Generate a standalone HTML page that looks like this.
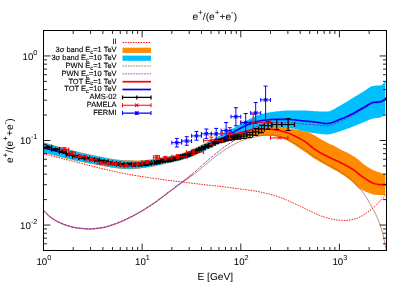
<!DOCTYPE html>
<html><head><meta charset="utf-8"><title>e+/(e+ + e-)</title>
<style>html,body{margin:0;padding:0;background:#fff;}svg{display:block;}</style>
</head><body>
<div id="plot" style="width:405px;height:283px;overflow:hidden;will-change:transform">
<svg width="405" height="283" viewBox="0 0 405 283" font-family="'Liberation Sans', sans-serif" fill="#000" text-rendering="geometricPrecision">
<rect x="0" y="0" width="405" height="283" fill="#fff"/>
<defs><clipPath id="c"><rect x="43.5" y="30.5" width="343.0" height="220.0"/></clipPath></defs>
<defs><clipPath id="cb"><rect x="43.5" y="30.5" width="341.8" height="220.0"/></clipPath></defs>
<g clip-path="url(#c)">
<path d="M43.5 153.7 L45.2 154.2 L46.9 154.6 L48.7 155.1 L50.4 155.5 L52.1 156.0 L53.8 156.4 L55.6 156.9 L57.3 157.3 L59.0 157.7 L60.7 158.2 L62.5 158.6 L64.2 159.1 L65.9 159.5 L67.6 159.9 L69.4 160.3 L71.1 160.8 L72.8 161.2 L74.5 161.6 L76.2 162.1 L78.0 162.5 L79.7 163.0 L81.4 163.4 L83.1 163.9 L84.9 164.3 L86.6 164.8 L88.3 165.2 L90.0 165.6 L91.8 166.1 L93.5 166.5 L95.2 166.9 L96.9 167.4 L98.7 167.8 L100.4 168.2 L102.1 168.6 L103.8 169.0 L105.6 169.4 L107.3 169.8 L109.0 170.2 L110.7 170.6 L112.4 171.0 L114.2 171.4 L115.9 171.8 L117.6 172.2 L119.3 172.6 L121.1 172.9 L122.8 173.3 L124.5 173.6 L126.2 173.9 L128.0 174.2 L129.7 174.5 L131.4 174.8 L133.1 175.1 L134.9 175.4 L136.6 175.7 L138.3 176.0 L140.0 176.3 L141.7 176.5 L143.5 176.8 L145.2 177.1 L146.9 177.3 L148.6 177.6 L150.4 177.9 L152.1 178.1 L153.8 178.4 L155.5 178.6 L157.3 178.8 L159.0 179.1 L160.7 179.3 L162.4 179.5 L164.2 179.8 L165.9 180.0 L167.6 180.2 L169.3 180.4 L171.0 180.6 L172.8 180.9 L174.5 181.1 L176.2 181.3 L177.9 181.5 L179.7 181.7 L181.4 181.9 L183.1 182.2 L184.8 182.4 L186.6 182.6 L188.3 182.8 L190.0 183.0 L191.7 183.2 L193.5 183.4 L195.2 183.6 L196.9 183.8 L198.6 184.0 L200.3 184.2 L202.1 184.4 L203.8 184.6 L205.5 184.8 L207.2 185.0 L209.0 185.2 L210.7 185.4 L212.4 185.6 L214.1 185.8 L215.9 185.9 L217.6 186.1 L219.3 186.3 L221.0 186.5 L222.8 186.7 L224.5 187.0 L226.2 187.2 L227.9 187.4 L229.7 187.6 L231.4 187.9 L233.1 188.1 L234.8 188.3 L236.5 188.5 L238.3 188.7 L240.0 189.0 L241.7 189.2 L243.4 189.4 L245.2 189.6 L246.9 189.9 L248.6 190.1 L250.3 190.4 L252.1 190.6 L253.8 190.9 L255.5 191.1 L257.2 191.4 L259.0 191.7 L260.7 192.1 L262.4 192.5 L264.1 192.9 L265.8 193.3 L267.6 193.7 L269.3 194.1 L271.0 194.6 L272.7 195.1 L274.5 195.6 L276.2 196.1 L277.9 196.7 L279.6 197.3 L281.4 197.9 L283.1 198.5 L284.8 199.2 L286.5 200.0 L288.3 200.7 L290.0 201.5 L291.7 202.3 L293.4 203.0 L295.1 203.9 L296.9 204.7 L298.6 205.5 L300.3 206.3 L302.0 207.1 L303.8 208.0 L305.5 208.8 L307.2 209.7 L308.9 210.6 L310.7 211.4 L312.4 212.2 L314.1 213.0 L315.8 213.7 L317.6 214.5 L319.3 215.2 L321.0 215.9 L322.7 216.5 L324.4 217.1 L326.2 217.7 L327.9 218.1 L329.6 218.5 L331.3 218.9 L333.1 219.3 L334.8 219.6 L336.5 219.9 L338.2 220.1 L340.0 220.2 L341.7 220.3 L343.4 220.4 L345.1 220.4 L346.9 220.4 L348.6 220.2 L350.3 220.0 L352.0 219.7 L353.8 219.3 L355.5 218.8 L357.2 218.2 L358.9 217.5 L360.6 216.6 L362.4 215.7 L364.1 214.6 L365.8 213.5 L367.5 212.3 L369.3 211.1 L371.0 209.7 L372.7 208.3 L374.4 206.8 L376.2 205.1 L377.9 203.4 L379.6 201.6 L381.3 199.6 L383.1 197.7 L384.8 195.7 L386.5 193.8" fill="none" stroke="#ff0000" stroke-width="0.95" stroke-dasharray="1.5 1.1"/>
<polygon clip-path="url(#cb)" points="43.5,142.3 45.0,142.8 46.5,143.2 47.9,143.6 49.4,144.0 50.9,144.5 52.4,144.9 53.9,145.3 55.4,145.7 56.8,146.1 58.3,146.5 59.8,146.9 61.3,147.3 62.8,147.7 64.3,148.1 65.7,148.5 67.2,148.9 68.7,149.3 70.2,149.7 71.7,150.1 73.2,150.5 74.6,150.9 76.1,151.3 77.6,151.7 79.1,152.0 80.6,152.4 82.1,152.7 83.5,153.1 85.0,153.4 86.5,153.7 88.0,154.0 89.5,154.4 91.0,154.7 92.4,155.0 93.9,155.3 95.4,155.6 96.9,155.9 98.4,156.2 99.9,156.5 101.3,156.8 102.8,157.1 104.3,157.4 105.8,157.7 107.3,157.9 108.8,158.2 110.2,158.5 111.7,158.7 113.2,159.0 114.7,159.2 116.2,159.4 117.7,159.6 119.1,159.8 120.6,160.0 122.1,160.1 123.6,160.2 125.1,160.3 126.6,160.3 128.0,160.3 129.5,160.3 131.0,160.3 132.5,160.4 134.0,160.4 135.5,160.5 136.9,160.5 138.4,160.5 139.9,160.4 141.4,160.3 142.9,160.2 144.4,160.1 145.8,159.9 147.3,159.8 148.8,159.6 150.3,159.5 151.8,159.3 153.3,159.1 154.7,158.9 156.2,158.6 157.7,158.3 159.2,158.1 160.7,157.8 162.2,157.5 163.6,157.2 165.1,156.9 166.6,156.7 168.1,156.4 169.6,156.1 171.1,155.8 172.5,155.5 174.0,155.2 175.5,154.9 177.0,154.5 178.5,154.2 180.0,153.8 181.4,153.4 182.9,153.0 184.4,152.5 185.9,152.0 187.4,151.5 188.9,150.9 190.3,150.4 191.8,149.7 193.3,149.0 194.8,148.3 196.3,147.6 197.8,146.8 199.2,146.1 200.7,145.3 202.2,144.6 203.7,143.8 205.2,143.1 206.7,142.3 208.1,141.5 209.6,140.7 211.1,140.0 212.6,139.3 214.1,138.5 215.6,137.8 217.0,137.0 218.5,136.3 220.0,135.6 221.7,135.1 223.4,134.3 225.1,133.6 226.7,132.9 228.4,132.2 230.1,131.6 231.8,130.9 233.5,130.3 235.2,129.7 236.8,129.2 238.5,128.6 240.2,128.1 241.9,127.7 243.6,127.2 245.3,126.8 246.9,126.4 248.6,126.1 250.3,125.7 252.0,125.5 253.7,125.2 255.4,124.9 257.0,124.7 258.7,124.6 260.4,124.5 262.1,124.5 263.8,124.4 265.5,124.4 267.1,124.4 268.8,124.4 270.5,124.4 272.2,124.5 273.9,124.7 275.6,125.0 277.3,125.3 278.9,125.6 280.6,125.9 282.3,126.3 284.0,126.8 285.7,127.3 287.4,127.8 289.0,128.3 290.7,128.6 292.4,129.0 294.1,129.2 295.8,129.5 297.5,129.7 299.1,130.0 300.8,130.3 302.5,130.6 304.2,131.0 305.9,131.4 307.6,131.9 309.2,132.4 310.9,133.2 312.6,134.2 314.3,135.3 316.0,136.3 317.7,137.3 319.3,138.3 321.0,139.3 322.7,140.2 324.4,141.2 326.1,142.1 327.8,142.9 329.4,143.7 331.1,144.4 332.8,145.1 334.5,145.9 336.2,146.9 337.9,148.0 339.6,149.0 341.2,149.9 342.9,150.8 344.6,151.6 346.3,152.3 348.0,153.1 349.7,154.0 351.3,154.9 353.0,155.9 354.7,157.0 356.4,158.2 358.1,159.4 359.8,160.8 361.4,162.3 363.1,163.8 364.8,165.1 366.5,166.2 368.2,167.3 369.9,168.2 371.5,169.2 373.2,170.0 374.9,170.7 376.6,171.4 378.3,172.0 380.0,172.6 381.6,173.2 383.3,173.7 385.0,174.1 386.7,174.5 386.7,195.0 385.0,195.0 383.3,195.0 381.6,195.0 380.0,194.9 378.3,194.9 376.6,194.8 374.9,194.7 373.2,194.4 371.5,193.9 369.9,193.3 368.2,192.7 366.5,192.0 364.8,191.2 363.1,190.4 361.4,189.6 359.8,188.6 358.1,187.5 356.4,185.9 354.7,184.2 353.0,182.5 351.3,181.0 349.7,179.7 348.0,178.5 346.3,177.3 344.6,176.1 342.9,175.0 341.2,173.9 339.6,172.8 337.9,171.8 336.2,170.8 334.5,169.9 332.8,168.9 331.1,168.0 329.4,167.1 327.8,166.2 326.1,165.2 324.4,164.3 322.7,163.4 321.0,162.4 319.3,161.5 317.7,160.5 316.0,159.5 314.3,158.5 312.6,157.4 310.9,156.2 309.2,155.0 307.6,153.8 305.9,152.6 304.2,151.5 302.5,150.3 300.8,149.2 299.1,148.1 297.5,146.9 295.8,145.7 294.1,144.5 292.4,143.4 290.7,142.4 289.0,141.5 287.4,140.6 285.7,139.9 284.0,139.3 282.3,138.6 280.6,137.9 278.9,137.2 277.3,136.8 275.6,136.5 273.9,136.3 272.2,136.0 270.5,135.9 268.8,135.8 267.1,135.8 265.5,135.8 263.8,135.8 262.1,135.8 260.4,135.9 258.7,135.9 257.0,135.9 255.4,136.0 253.7,136.1 252.0,136.3 250.3,136.5 248.6,136.7 246.9,137.0 245.3,137.2 243.6,137.5 241.9,137.8 240.2,138.1 238.5,138.5 236.8,138.9 235.2,139.3 233.5,139.7 231.8,140.2 230.1,140.6 228.4,141.1 226.7,141.6 225.1,142.2 223.4,142.7 221.7,143.3 220.0,143.6 218.5,144.2 217.0,144.9 215.6,145.6 214.1,146.3 212.6,147.0 211.1,147.7 209.6,148.4 208.1,149.1 206.7,149.8 205.2,150.6 203.7,151.3 202.2,152.0 200.7,152.7 199.2,153.4 197.8,154.1 196.3,154.8 194.8,155.5 193.3,156.1 191.8,156.8 190.3,157.3 188.9,157.9 187.4,158.4 185.9,158.8 184.4,159.3 182.9,159.7 181.4,160.2 180.0,160.6 178.5,160.9 177.0,161.3 175.5,161.7 174.0,162.0 172.5,162.3 171.1,162.7 169.6,163.0 168.1,163.3 166.6,163.6 165.1,164.0 163.6,164.3 162.2,164.6 160.7,165.0 159.2,165.3 157.7,165.6 156.2,165.9 154.7,166.2 153.3,166.5 151.8,166.8 150.3,167.0 148.8,167.2 147.3,167.5 145.8,167.7 144.4,167.9 142.9,168.1 141.4,168.3 139.9,168.5 138.4,168.7 136.9,168.8 135.5,168.9 134.0,168.9 132.5,169.0 131.0,169.0 129.5,169.0 128.0,169.1 126.6,169.1 125.1,169.1 123.6,169.1 122.1,169.0 120.6,168.8 119.1,168.7 117.7,168.5 116.2,168.3 114.7,168.1 113.2,167.9 111.7,167.6 110.2,167.4 108.8,167.1 107.3,166.9 105.8,166.6 104.3,166.3 102.8,166.0 101.3,165.7 99.9,165.4 98.4,165.2 96.9,164.9 95.4,164.6 93.9,164.4 92.4,164.1 91.0,163.8 89.5,163.6 88.0,163.3 86.5,163.0 85.0,162.7 83.5,162.4 82.1,162.1 80.6,161.8 79.1,161.5 77.6,161.2 76.1,160.9 74.6,160.5 73.2,160.2 71.7,159.8 70.2,159.5 68.7,159.1 67.2,158.8 65.7,158.4 64.3,158.0 62.8,157.7 61.3,157.3 59.8,156.9 58.3,156.6 56.8,156.2 55.4,155.8 53.9,155.5 52.4,155.1 50.9,154.7 49.4,154.3 47.9,154.0 46.5,153.6 45.0,153.2 43.5,152.8" fill="#ff8c00"/>
<polygon clip-path="url(#cb)" points="43.5,142.8 45.0,143.2 46.5,143.6 47.9,144.0 49.4,144.4 50.9,144.9 52.4,145.3 53.9,145.7 55.4,146.1 56.8,146.5 58.3,146.9 59.8,147.3 61.3,147.7 62.8,148.1 64.3,148.5 65.7,148.9 67.2,149.3 68.7,149.7 70.2,150.1 71.7,150.5 73.2,150.9 74.6,151.3 76.1,151.7 77.6,152.1 79.1,152.4 80.6,152.8 82.1,153.1 83.5,153.5 85.0,153.8 86.5,154.1 88.0,154.4 89.5,154.8 91.0,155.1 92.4,155.4 93.9,155.7 95.4,156.0 96.9,156.3 98.4,156.6 99.9,156.9 101.3,157.2 102.8,157.5 104.3,157.8 105.8,158.1 107.3,158.3 108.8,158.6 110.2,158.9 111.7,159.1 113.2,159.4 114.7,159.6 116.2,159.8 117.7,160.0 119.1,160.2 120.6,160.4 122.1,160.5 123.6,160.6 125.1,160.7 126.6,160.7 128.0,160.7 129.5,160.7 131.0,160.7 132.5,160.8 134.0,160.8 135.5,160.9 136.9,160.9 138.4,160.9 139.9,160.8 141.4,160.7 142.9,160.6 144.4,160.5 145.8,160.3 147.3,160.2 148.8,160.0 150.3,159.9 151.8,159.7 153.3,159.5 154.7,159.3 156.2,159.0 157.7,158.7 159.2,158.5 160.7,158.2 162.2,157.9 163.6,157.6 165.1,157.3 166.6,157.1 168.1,156.8 169.6,156.5 171.1,156.2 172.5,155.9 174.0,155.6 175.5,155.3 177.0,154.9 178.5,154.6 180.0,154.2 181.4,153.8 182.9,153.4 184.4,152.9 185.9,152.4 187.4,151.9 188.9,151.3 190.3,150.8 191.8,150.1 193.3,149.4 194.8,148.7 196.3,148.0 197.8,147.2 199.2,146.5 200.7,145.7 202.2,145.0 203.7,144.2 205.2,143.5 206.7,142.7 208.1,141.9 209.6,141.1 211.1,140.4 212.6,139.7 214.1,138.9 215.6,138.2 217.0,137.4 218.5,136.7 220.0,136.0 221.7,135.0 223.4,133.9 225.1,132.9 226.7,131.8 228.4,130.9 230.1,129.9 231.8,129.1 233.5,128.2 235.2,127.2 236.8,126.3 238.5,125.3 240.2,124.3 241.9,123.3 243.6,122.4 245.3,121.4 246.9,120.4 248.6,119.5 250.3,118.6 252.0,117.8 253.7,116.9 255.4,116.2 257.0,115.5 258.7,114.9 260.4,114.4 262.1,113.9 263.8,113.5 265.5,113.1 267.1,112.8 268.8,112.4 270.5,112.2 272.2,111.9 273.9,111.7 275.6,111.5 277.3,111.3 278.9,111.2 280.6,111.0 282.3,110.8 284.0,110.7 285.7,110.6 287.4,110.5 289.0,110.5 290.7,110.5 292.4,110.5 294.1,110.5 295.8,110.5 297.5,110.5 299.1,110.5 300.8,110.5 302.5,110.5 304.2,110.5 305.9,110.6 307.6,110.7 309.2,110.8 310.9,111.0 312.6,111.1 314.3,111.2 316.0,111.3 317.7,111.3 319.3,111.4 321.0,111.5 322.7,111.5 324.4,111.6 326.1,111.6 327.8,111.6 329.4,111.3 331.1,110.6 332.8,109.8 334.5,108.9 336.2,107.8 337.9,106.8 339.6,105.9 341.2,105.0 342.9,104.0 344.6,103.0 346.3,102.0 348.0,100.9 349.7,99.9 351.3,98.8 353.0,97.8 354.7,96.8 356.4,95.8 358.1,94.8 359.8,93.8 361.4,92.8 363.1,91.8 364.8,90.8 366.5,89.6 368.2,88.3 369.9,87.2 371.5,86.3 373.2,85.9 374.9,85.7 376.6,85.6 378.3,85.5 380.0,85.4 381.6,85.1 383.3,83.4 385.0,81.4 386.7,80.2 386.7,113.2 385.0,114.2 383.3,115.7 381.6,117.1 380.0,117.6 378.3,117.9 376.6,118.1 374.9,118.3 373.2,118.6 371.5,119.0 369.9,119.6 368.2,120.3 366.5,121.1 364.8,121.8 363.1,122.5 361.4,123.2 359.8,123.8 358.1,124.5 356.4,125.2 354.7,125.9 353.0,126.6 351.3,127.2 349.7,127.9 348.0,128.5 346.3,129.1 344.6,129.7 342.9,130.3 341.2,130.9 339.6,131.4 337.9,131.9 336.2,132.4 334.5,133.0 332.8,133.5 331.1,133.9 329.4,134.2 327.8,134.4 326.1,134.4 324.4,134.3 322.7,134.2 321.0,134.0 319.3,133.8 317.7,133.6 316.0,133.4 314.3,133.1 312.6,132.9 310.9,132.6 309.2,132.2 307.6,131.8 305.9,131.5 304.2,131.1 302.5,130.7 300.8,130.4 299.1,130.0 297.5,129.6 295.8,129.2 294.1,128.8 292.4,128.5 290.7,128.2 289.0,127.9 287.4,127.7 285.7,127.4 284.0,127.2 282.3,127.0 280.6,126.8 278.9,126.6 277.3,126.5 275.6,126.4 273.9,126.4 272.2,126.4 270.5,126.5 268.8,126.6 267.1,126.7 265.5,126.9 263.8,127.1 262.1,127.4 260.4,127.7 258.7,128.0 257.0,128.5 255.4,128.9 253.7,129.4 252.0,130.0 250.3,130.5 248.6,131.1 246.9,131.6 245.3,132.3 243.6,132.9 241.9,133.6 240.2,134.2 238.5,134.9 236.8,135.6 235.2,136.3 233.5,137.0 231.8,137.8 230.1,138.6 228.4,139.3 226.7,140.1 225.1,140.9 223.4,141.7 221.7,142.6 220.0,143.2 218.5,143.9 217.0,144.6 215.6,145.2 214.1,145.9 212.6,146.6 211.1,147.3 209.6,148.0 208.1,148.7 206.7,149.5 205.2,150.2 203.7,150.9 202.2,151.7 200.7,152.4 199.2,153.1 197.8,153.8 196.3,154.5 194.8,155.1 193.3,155.8 191.8,156.4 190.3,157.0 188.9,157.5 187.4,158.0 185.9,158.5 184.4,159.0 182.9,159.4 181.4,159.8 180.0,160.2 178.5,160.6 177.0,161.0 175.5,161.3 174.0,161.7 172.5,162.0 171.1,162.3 169.6,162.6 168.1,163.0 166.6,163.3 165.1,163.6 163.6,163.9 162.2,164.3 160.7,164.6 159.2,164.9 157.7,165.3 156.2,165.6 154.7,165.9 153.3,166.2 151.8,166.4 150.3,166.7 148.8,166.9 147.3,167.1 145.8,167.3 144.4,167.6 142.9,167.8 141.4,168.0 139.9,168.2 138.4,168.3 136.9,168.5 135.5,168.5 134.0,168.6 132.5,168.6 131.0,168.7 129.5,168.7 128.0,168.7 126.6,168.7 125.1,168.7 123.6,168.7 122.1,168.6 120.6,168.5 119.1,168.3 117.7,168.1 116.2,167.9 114.7,167.7 113.2,167.5 111.7,167.3 110.2,167.1 108.8,166.8 107.3,166.5 105.8,166.2 104.3,165.9 102.8,165.6 101.3,165.4 99.9,165.1 98.4,164.8 96.9,164.5 95.4,164.3 93.9,164.0 92.4,163.7 91.0,163.5 89.5,163.2 88.0,162.9 86.5,162.7 85.0,162.4 83.5,162.1 82.1,161.8 80.6,161.5 79.1,161.2 77.6,160.9 76.1,160.5 74.6,160.2 73.2,159.8 71.7,159.5 70.2,159.1 68.7,158.8 67.2,158.4 65.7,158.0 64.3,157.7 62.8,157.3 61.3,156.9 59.8,156.6 58.3,156.2 56.8,155.9 55.4,155.5 53.9,155.1 52.4,154.7 50.9,154.4 49.4,154.0 47.9,153.6 46.5,153.2 45.0,152.8 43.5,152.4" fill="#00bfff"/>
<path d="M43.7 210.6 L44.9 211.9 L46.2 213.2 L47.4 214.4 L48.7 215.6 L49.9 216.7 L51.2 217.7 L52.4 218.5 L53.7 219.3 L54.9 220.1 L56.2 220.8 L57.4 221.5 L58.7 222.1 L59.9 222.7 L61.2 223.3 L62.4 223.8 L63.7 224.3 L64.9 224.7 L66.2 225.2 L67.4 225.6 L68.7 226.0 L69.9 226.4 L71.2 226.7 L72.4 227.0 L73.7 227.3 L74.9 227.6 L76.2 227.8 L77.4 227.9 L78.7 228.1 L79.9 228.2 L81.2 228.4 L82.4 228.5 L83.7 228.6 L84.9 228.7 L86.2 228.8 L87.4 228.9 L88.7 228.9 L89.9 228.9 L91.2 228.9 L92.4 228.8 L93.7 228.7 L94.9 228.6 L96.2 228.5 L97.4 228.3 L98.7 228.2 L99.9 228.0 L101.2 227.8 L102.4 227.6 L103.7 227.4 L104.9 227.1 L106.2 226.8 L107.4 226.5 L108.7 226.1 L109.9 225.7 L111.2 225.3 L112.4 224.8 L113.7 224.4 L114.9 224.0 L116.2 223.5 L117.4 223.1 L118.7 222.5 L119.9 222.0 L121.2 221.5 L122.4 220.9 L123.7 220.4 L124.9 219.8 L126.2 219.2 L127.4 218.6 L128.7 218.0 L129.9 217.4 L131.2 216.8 L132.4 216.1 L133.7 215.5 L134.9 214.8 L136.2 214.1 L137.4 213.5 L138.7 212.8 L139.9 212.0 L141.2 211.3 L142.4 210.6 L143.7 209.8 L144.9 209.1 L146.2 208.3 L147.4 207.5 L148.7 206.7 L149.9 205.9 L151.2 205.1 L152.4 204.2 L153.7 203.4 L154.9 202.5 L156.2 201.6 L157.4 200.7 L158.7 199.8 L159.9 198.9 L161.2 197.9 L162.4 197.0 L163.7 196.0 L164.9 195.1 L166.2 194.1 L167.4 193.2 L168.7 192.2 L169.9 191.3 L171.2 190.4 L172.4 189.4 L173.7 188.5 L174.9 187.6 L176.2 186.6 L177.4 185.7 L178.7 184.7 L179.9 183.8 L181.2 182.8 L182.4 181.9 L183.7 180.9 L184.9 180.0 L186.2 179.0 L187.4 178.0 L188.7 177.0 L189.9 176.1 L191.2 175.1 L192.4 174.1" fill="none" stroke="#c46ab0" stroke-width="1.5" stroke-opacity="0.55"/>
<path d="M43.7 210.8 L45.0 212.2 L46.3 213.6 L47.7 214.9 L49.0 216.1 L50.3 217.2 L51.6 218.2 L53.0 219.1 L54.3 219.9 L55.6 220.7 L56.9 221.4 L58.3 222.1 L59.6 222.8 L60.9 223.4 L62.2 223.9 L63.6 224.5 L64.9 224.9 L66.2 225.4 L67.5 225.8 L68.8 226.2 L70.2 226.6 L71.5 227.0 L72.8 227.3 L74.1 227.6 L75.5 227.9 L76.8 228.1 L78.1 228.2 L79.4 228.4 L80.8 228.5 L82.1 228.7 L83.4 228.8 L84.7 228.9 L86.1 229.0 L87.4 229.1 L88.7 229.1 L90.0 229.1 L91.3 229.1 L92.7 229.0 L94.0 228.9 L95.3 228.8 L96.6 228.6 L98.0 228.5 L99.3 228.3 L100.6 228.1 L101.9 227.9 L103.3 227.7 L104.6 227.4 L105.9 227.1 L107.2 226.7 L108.6 226.3 L109.9 225.9 L111.2 225.5 L112.5 225.0 L113.8 224.6 L115.2 224.1 L116.5 223.6 L117.8 223.1 L119.1 222.6 L120.5 222.0 L121.8 221.4 L123.1 220.8 L124.4 220.2 L125.8 219.6 L127.1 219.0 L128.4 218.3 L129.7 217.7 L131.1 217.0 L132.4 216.4 L133.7 215.7 L135.0 215.0 L136.3 214.2 L137.7 213.5 L139.0 212.8 L140.3 212.0 L141.6 211.2 L143.0 210.5 L144.3 209.7 L145.6 208.8 L146.9 208.0 L148.3 207.2 L149.6 206.3 L150.9 205.4 L152.2 204.5 L153.6 203.7 L154.9 202.7 L156.2 201.8 L157.5 200.9 L158.8 199.9 L160.2 198.9 L161.5 197.9 L162.8 196.9 L164.1 195.8 L165.5 194.8 L166.8 193.8 L168.1 192.8 L169.4 191.8 L170.8 190.8 L172.1 189.8 L173.4 188.8 L174.7 187.8 L176.1 186.8 L177.4 185.8 L178.7 184.9 L180.0 183.9 L181.3 183.0 L182.7 182.1 L184.0 181.2 L185.3 180.4 L186.6 179.5 L188.0 178.7 L189.3 177.8 L190.6 176.6 L191.9 175.7 L193.3 174.8 L194.6 173.8 L195.9 172.8 L197.2 171.7 L198.6 170.7 L199.9 169.5 L201.2 168.4 L202.5 167.3 L203.8 166.2 L205.2 165.0 L206.5 163.9 L207.8 162.8 L209.1 161.7 L210.5 160.6 L211.8 159.5 L213.1 158.5 L214.4 157.4 L215.8 156.3 L217.1 155.3 L218.4 154.3 L219.7 153.3 L221.1 152.4 L222.4 151.5 L223.7 150.6 L225.0 149.7 L226.4 148.9 L227.7 148.1 L229.0 147.3 L230.3 146.5 L231.6 145.7 L233.0 145.0 L234.3 144.2 L235.6 143.5 L236.9 142.8 L238.3 142.2 L239.6 141.6 L240.9 141.0 L242.2 140.5 L243.6 140.1 L244.9 139.6 L246.2 139.2 L247.5 138.9 L248.9 138.5 L250.2 138.2 L251.5 137.8 L252.8 137.5 L254.1 137.2 L255.5 136.9 L256.8 136.6 L258.1 136.4 L259.4 136.1 L260.8 135.8 L262.1 135.5 L263.4 135.3 L264.7 135.2 L266.1 135.2 L267.4 135.1 L268.7 135.1 L270.0 135.0 L271.4 135.0 L272.7 135.0 L274.0 135.1 L275.3 135.3 L276.6 135.6 L278.0 135.9 L279.3 136.3 L280.6 136.7 L281.9 137.1 L283.3 137.6 L284.6 138.2 L285.9 138.9 L287.2 139.6 L288.6 140.3 L289.9 141.0 L291.2 141.7 L292.5 142.4 L293.9 143.1 L295.2 143.7 L296.5 144.4 L297.8 145.2 L299.1 145.9 L300.5 146.6 L301.8 147.4 L303.1 148.2 L304.4 149.1 L305.8 150.0 L307.1 151.0 L308.4 152.0 L309.7 153.0 L311.1 154.0 L312.4 154.9 L313.7 155.9 L315.0 156.8 L316.4 157.6 L317.7 158.5 L319.0 159.3 L320.3 160.2 L321.6 161.0 L323.0 161.8 L324.3 162.6 L325.6 163.3 L326.9 164.1 L328.3 164.8 L329.6 165.5 L330.9 166.2 L332.2 166.9 L333.6 167.6 L334.9 168.3 L336.2 169.1 L337.5 169.9 L338.9 170.7 L340.2 171.6 L341.5 172.5 L342.8 173.4 L344.1 174.3 L345.5 175.3 L346.8 176.3 L348.1 177.4 L349.4 178.4 L350.8 179.5 L352.1 180.7 L353.4 181.9 L354.7 183.2 L356.1 184.7 L357.4 186.4 L358.7 187.9 L360.0 189.2 L361.4 190.4 L362.7 192.0 L364.0 193.9 L365.3 195.9 L366.6 198.0 L368.0 200.2 L369.3 202.4 L370.6 204.7 L371.9 207.0 L373.3 209.5 L374.6 212.0 L375.9 214.6 L377.2 217.5 L378.6 220.6 L379.9 224.1 L381.2 228.1 L382.5 232.7 L383.9 238.3 L385.2 245.0 L386.5 252.0" fill="none" stroke="#a0522d" stroke-width="0.85" stroke-opacity="0.75"/>
<path d="M43.7 210.5 L45.0 211.9 L46.3 213.3 L47.7 214.6 L49.0 215.8 L50.3 216.9 L51.6 217.9 L53.0 218.8 L54.3 219.6 L55.6 220.4 L56.9 221.1 L58.3 221.8 L59.6 222.5 L60.9 223.1 L62.2 223.6 L63.6 224.2 L64.9 224.6 L66.2 225.1 L67.5 225.5 L68.9 225.9 L70.2 226.3 L71.5 226.7 L72.8 227.0 L74.2 227.3 L75.5 227.6 L76.8 227.8 L78.1 227.9 L79.5 228.1 L80.8 228.2 L82.1 228.4 L83.4 228.5 L84.8 228.6 L86.1 228.7 L87.4 228.8 L88.7 228.8 L90.1 228.8 L91.4 228.8 L92.7 228.7 L94.0 228.6 L95.3 228.5 L96.7 228.3 L98.0 228.1 L99.3 228.0 L100.6 227.8 L102.0 227.6 L103.3 227.4 L104.6 227.1 L105.9 226.8 L107.3 226.4 L108.6 226.0 L109.9 225.6 L111.2 225.1 L112.6 224.7 L113.9 224.2 L115.2 223.8 L116.5 223.3 L117.9 222.8 L119.2 222.2 L120.5 221.7 L121.8 221.1 L123.2 220.5 L124.5 219.9 L125.8 219.3 L127.1 218.7 L128.5 218.0 L129.8 217.4 L131.1 216.7 L132.4 216.0 L133.8 215.3 L135.1 214.6 L136.4 213.9 L137.7 213.2 L139.1 212.4 L140.4 211.7 L141.7 210.9 L143.0 210.1 L144.3 209.3 L145.7 208.5 L147.0 207.7 L148.3 206.8 L149.6 206.0 L151.0 205.1 L152.3 204.2 L153.6 203.3 L154.9 202.4 L156.3 201.5 L157.6 200.5 L158.9 199.5 L160.2 198.5 L161.6 197.5 L162.9 196.5 L164.2 195.5 L165.5 194.5 L166.9 193.5 L168.2 192.5 L169.5 191.5 L170.8 190.5 L172.2 189.5 L173.5 188.5 L174.8 187.5 L176.1 186.5 L177.5 185.6 L178.8 184.5 L180.1 183.5 L181.4 182.5 L182.8 181.5 L184.1 180.5 L185.4 179.5 L186.7 178.5 L188.1 177.5 L189.4 176.4 L190.7 175.4 L192.0 174.3 L193.3 173.2 L194.7 172.1 L196.0 170.9 L197.3 169.7 L198.6 168.5 L200.0 167.3 L201.3 166.1 L202.6 164.9 L203.9 163.7 L205.3 162.5 L206.6 161.4 L207.9 160.3 L209.2 159.1 L210.6 158.0 L211.9 156.9 L213.2 155.8 L214.5 154.7 L215.9 153.6 L217.2 152.6 L218.5 151.5 L219.8 150.5 L221.2 149.4 L222.5 148.4 L223.8 147.4 L225.1 146.5 L226.5 145.5 L227.8 144.6 L229.1 143.8 L230.4 142.9 L231.8 142.0 L233.1 141.1 L234.4 140.2 L235.7 139.3 L237.1 138.4 L238.4 137.5 L239.7 136.6 L241.0 135.8 L242.3 134.9 L243.7 134.0 L245.0 133.2 L246.3 132.3 L247.6 131.5 L249.0 130.6 L250.3 129.8 L251.6 129.0 L252.9 128.3 L254.3 127.7 L255.6 127.0 L256.9 126.4 L258.2 125.9 L259.6 125.4 L260.9 125.0 L262.2 124.6 L263.5 124.2 L264.9 123.8 L266.2 123.5 L267.5 123.3 L268.8 123.0 L270.2 122.8 L271.5 122.6 L272.8 122.5 L274.1 122.4 L275.5 122.4 L276.8 122.4 L278.1 122.4 L279.4 122.5 L280.8 122.5 L282.1 122.5 L283.4 122.6 L284.7 122.6 L286.1 122.7 L287.4 122.7 L288.7 122.8 L290.0 122.8 L291.3 122.9 L292.7 123.0 L294.0 123.1 L295.3 123.2 L296.6 123.3 L298.0 123.4 L299.3 123.5 L300.6 123.6 L301.9 123.7 L303.3 123.9 L304.6 124.0 L305.9 124.1 L307.2 124.2 L308.6 124.3 L309.9 124.4 L311.2 124.5 L312.5 124.6 L313.9 124.7 L315.2 124.8 L316.5 125.0 L317.8 125.1 L319.2 125.2 L320.5 125.4 L321.8 125.5 L323.1 125.6 L324.5 125.7 L325.8 125.8 L327.1 125.8 L328.4 125.7 L329.8 125.5 L331.1 125.1 L332.4 124.7 L333.7 124.1 L335.1 123.6 L336.4 123.0 L337.7 122.4 L339.0 121.8 L340.3 121.3 L341.7 120.7 L343.0 120.1 L344.3 119.5 L345.6 118.9 L347.0 118.3 L348.3 117.6 L349.6 117.0 L350.9 116.3 L352.3 115.6 L353.6 114.9 L354.9 114.1 L356.2 113.3 L357.6 112.5 L358.9 111.7 L360.2 110.8 L361.5 110.0 L362.9 109.2 L364.2 108.5 L365.5 107.7 L366.8 106.8 L368.2 106.0 L369.5 105.1 L370.8 104.4 L372.1 103.8 L373.5 103.3 L374.8 103.1 L376.1 103.0 L377.4 103.0 L378.8 102.8 L380.1 102.6 L381.4 102.1 L382.7 101.3 L384.1 100.3 L385.4 99.2 L386.7 98.0" fill="none" stroke="#90209a" stroke-width="0.9" stroke-dasharray="2.5 1.1"/>
<path d="M43.5 147.6 L44.8 148.0 L46.2 148.3 L47.5 148.7 L48.8 149.0 L50.1 149.4 L51.5 149.8 L52.8 150.1 L54.1 150.5 L55.4 150.8 L56.8 151.2 L58.1 151.5 L59.4 151.8 L60.7 152.2 L62.1 152.5 L63.4 152.9 L64.7 153.2 L66.0 153.6 L67.4 153.9 L68.7 154.3 L70.0 154.6 L71.3 154.9 L72.7 155.3 L74.0 155.6 L75.3 155.9 L76.6 156.2 L78.0 156.5 L79.3 156.8 L80.6 157.1 L81.9 157.4 L83.3 157.7 L84.6 158.0 L85.9 158.3 L87.2 158.5 L88.6 158.8 L89.9 159.1 L91.2 159.3 L92.5 159.6 L93.9 159.8 L95.2 160.1 L96.5 160.3 L97.8 160.6 L99.2 160.8 L100.5 161.1 L101.8 161.3 L103.1 161.6 L104.5 161.9 L105.8 162.1 L107.1 162.4 L108.4 162.6 L109.8 162.9 L111.1 163.1 L112.4 163.3 L113.7 163.5 L115.1 163.7 L116.4 163.9 L117.7 164.1 L119.0 164.2 L120.4 164.4 L121.7 164.5 L123.0 164.6 L124.3 164.7 L125.7 164.7 L127.0 164.7 L128.3 164.7 L129.6 164.7 L131.0 164.7 L132.3 164.7 L133.6 164.7 L134.9 164.7 L136.3 164.7 L137.6 164.6 L138.9 164.6 L140.2 164.5 L141.6 164.3 L142.9 164.2 L144.2 164.0 L145.5 163.9 L146.9 163.7 L148.2 163.5 L149.5 163.4 L150.8 163.2 L152.2 163.0 L153.5 162.8 L154.8 162.6 L156.1 162.3 L157.5 162.1 L158.8 161.8 L160.1 161.5 L161.4 161.2 L162.8 161.0 L164.1 160.7 L165.4 160.4 L166.7 160.2 L168.1 159.9 L169.4 159.6 L170.7 159.3 L172.0 159.1 L173.4 158.8 L174.7 158.5 L176.0 158.2 L177.3 157.9 L178.7 157.5 L180.0 157.2 L181.3 156.8 L182.6 156.5 L184.0 156.1 L185.3 155.7 L186.6 155.2 L187.9 154.8 L189.3 154.3 L190.6 153.8 L191.9 153.2 L193.2 152.6 L194.6 152.0 L195.9 151.4 L197.2 150.8 L198.5 150.1 L199.9 149.5 L201.2 148.8 L202.5 148.2 L203.8 147.5 L205.2 146.8 L206.5 146.2 L207.8 145.5 L209.1 144.8 L210.5 144.2 L211.8 143.5 L213.1 142.9 L214.4 142.2 L215.8 141.5 L217.1 140.9 L218.4 140.3 L219.7 139.7 L221.1 139.2 L222.4 138.6 L223.7 138.1 L225.0 137.7 L226.4 137.2 L227.7 136.7 L229.0 136.2 L230.3 135.7 L231.7 135.3 L233.0 134.8 L234.3 134.3 L235.6 133.9 L237.0 133.5 L238.3 133.2 L239.6 132.8 L240.9 132.5 L242.3 132.1 L243.6 131.8 L244.9 131.5 L246.2 131.2 L247.6 130.9 L248.9 130.6 L250.2 130.3 L251.5 130.0 L252.9 129.8 L254.2 129.6 L255.5 129.4 L256.8 129.2 L258.2 129.1 L259.5 129.0 L260.8 129.0 L262.1 129.0 L263.5 129.0 L264.8 129.0 L266.1 129.0 L267.4 129.0 L268.8 129.0 L270.1 129.1 L271.4 129.3 L272.7 129.4 L274.1 129.6 L275.4 129.8 L276.7 130.0 L278.0 130.3 L279.4 130.5 L280.7 130.9 L282.0 131.2 L283.3 131.5 L284.7 131.9 L286.0 132.3 L287.3 132.8 L288.6 133.2 L290.0 133.7 L291.3 134.3 L292.6 134.9 L293.9 135.5 L295.3 136.2 L296.6 136.9 L297.9 137.6 L299.2 138.2 L300.6 138.9 L301.9 139.6 L303.2 140.4 L304.5 141.2 L305.9 142.1 L307.2 143.1 L308.5 144.2 L309.8 145.3 L311.2 146.5 L312.5 147.6 L313.8 148.6 L315.1 149.5 L316.5 150.4 L317.8 151.2 L319.1 152.0 L320.4 152.8 L321.8 153.5 L323.1 154.2 L324.4 154.9 L325.7 155.6 L327.1 156.3 L328.4 156.9 L329.7 157.6 L331.0 158.2 L332.4 158.8 L333.7 159.4 L335.0 160.0 L336.3 160.6 L337.7 161.2 L339.0 161.8 L340.3 162.5 L341.6 163.2 L343.0 163.8 L344.3 164.5 L345.6 165.2 L346.9 165.9 L348.3 166.7 L349.6 167.4 L350.9 168.2 L352.2 169.0 L353.6 169.9 L354.9 170.9 L356.2 171.9 L357.5 172.9 L358.9 174.0 L360.2 175.1 L361.5 176.1 L362.8 177.0 L364.2 177.9 L365.5 178.8 L366.8 179.6 L368.1 180.5 L369.5 181.3 L370.8 182.1 L372.1 182.7 L373.4 183.3 L374.8 183.7 L376.1 184.0 L377.4 184.3 L378.7 184.5 L380.1 184.6 L381.4 184.6 L382.7 184.6 L384.0 184.6 L385.4 184.5 L386.7 184.4" fill="none" stroke="#ff0000" stroke-width="1.65"/>
<path d="M43.5 147.6 L44.8 148.0 L46.2 148.3 L47.5 148.7 L48.8 149.0 L50.1 149.4 L51.5 149.8 L52.8 150.1 L54.1 150.5 L55.4 150.8 L56.8 151.2 L58.1 151.5 L59.4 151.8 L60.7 152.2 L62.1 152.5 L63.4 152.9 L64.7 153.2 L66.0 153.6 L67.4 153.9 L68.7 154.3 L70.0 154.6 L71.3 154.9 L72.7 155.3 L74.0 155.6 L75.3 155.9 L76.6 156.2 L78.0 156.5 L79.3 156.8 L80.6 157.1 L81.9 157.4 L83.3 157.7 L84.6 158.0 L85.9 158.3 L87.2 158.5 L88.6 158.8 L89.9 159.1 L91.2 159.3 L92.5 159.6 L93.9 159.8 L95.2 160.1 L96.5 160.3 L97.8 160.6 L99.2 160.8 L100.5 161.1 L101.8 161.3 L103.1 161.6 L104.5 161.9 L105.8 162.1 L107.1 162.4 L108.4 162.6 L109.8 162.9 L111.1 163.1 L112.4 163.3 L113.7 163.5 L115.1 163.7 L116.4 163.9 L117.7 164.1 L119.0 164.2 L120.4 164.4 L121.7 164.5 L123.0 164.6 L124.3 164.7 L125.7 164.7 L127.0 164.7 L128.3 164.7 L129.6 164.7 L131.0 164.7 L132.3 164.7 L133.6 164.7 L134.9 164.7 L136.3 164.7 L137.6 164.6 L138.9 164.6 L140.2 164.5 L141.6 164.3 L142.9 164.2 L144.2 164.0 L145.5 163.9 L146.9 163.7 L148.2 163.5 L149.5 163.4 L150.8 163.2 L152.2 163.0 L153.5 162.8 L154.8 162.6 L156.1 162.3 L157.5 162.1 L158.8 161.8 L160.1 161.5 L161.4 161.2 L162.8 161.0 L164.1 160.7 L165.4 160.4 L166.7 160.2 L168.1 159.9 L169.4 159.6 L170.7 159.3 L172.0 159.1 L173.4 158.8 L174.7 158.5 L176.0 158.2 L177.3 157.9 L178.7 157.5 L180.0 157.2 L181.3 156.8 L182.6 156.5 L184.0 156.1 L185.3 155.7 L186.6 155.2 L187.9 154.8 L189.3 154.3 L190.6 153.8 L191.9 153.2 L193.2 152.6 L194.6 152.0 L195.9 151.4 L197.2 150.8 L198.5 150.1 L199.9 149.5 L201.2 148.8 L202.5 148.2 L203.8 147.5 L205.2 146.8 L206.5 146.2 L207.8 145.5 L209.1 144.8 L210.5 144.2 L211.8 143.5 L213.1 142.9 L214.4 142.3 L215.8 141.7 L217.1 141.0 L218.4 140.4 L219.7 139.7 L221.1 139.1 L222.4 138.4 L223.7 137.7 L225.0 136.9 L226.4 136.2 L227.7 135.5 L229.0 134.7 L230.3 133.9 L231.7 133.1 L233.0 132.4 L234.3 131.6 L235.6 130.8 L237.0 130.1 L238.3 129.4 L239.6 128.7 L240.9 128.0 L242.3 127.3 L243.6 126.7 L244.9 126.0 L246.2 125.4 L247.6 124.9 L248.9 124.3 L250.2 123.8 L251.5 123.3 L252.9 122.8 L254.2 122.4 L255.5 122.0 L256.8 121.6 L258.2 121.3 L259.5 121.0 L260.8 120.7 L262.1 120.5 L263.5 120.3 L264.8 120.2 L266.1 120.0 L267.4 119.9 L268.8 119.7 L270.1 119.6 L271.4 119.5 L272.7 119.4 L274.1 119.3 L275.4 119.3 L276.7 119.3 L278.0 119.3 L279.4 119.3 L280.7 119.3 L282.0 119.4 L283.3 119.4 L284.7 119.4 L286.0 119.4 L287.3 119.4 L288.6 119.5 L290.0 119.5 L291.3 119.6 L292.6 119.7 L293.9 119.8 L295.3 119.9 L296.6 120.1 L297.9 120.3 L299.2 120.4 L300.6 120.6 L301.9 120.7 L303.2 120.9 L304.5 121.0 L305.9 121.1 L307.2 121.3 L308.5 121.4 L309.8 121.5 L311.2 121.6 L312.5 121.8 L313.8 121.9 L315.1 122.0 L316.5 122.2 L317.8 122.4 L319.1 122.6 L320.4 122.8 L321.8 123.0 L323.1 123.2 L324.4 123.4 L325.7 123.5 L327.1 123.5 L328.4 123.4 L329.7 123.2 L331.0 122.9 L332.4 122.5 L333.7 122.0 L335.0 121.4 L336.3 120.9 L337.7 120.3 L339.0 119.8 L340.3 119.3 L341.6 118.8 L343.0 118.2 L344.3 117.7 L345.6 117.1 L346.9 116.5 L348.3 115.9 L349.6 115.2 L350.9 114.6 L352.2 113.9 L353.6 113.2 L354.9 112.5 L356.2 111.8 L357.5 111.0 L358.9 110.3 L360.2 109.5 L361.5 108.7 L362.8 108.0 L364.2 107.3 L365.5 106.5 L366.8 105.7 L368.1 104.8 L369.5 104.0 L370.8 103.3 L372.1 102.7 L373.4 102.3 L374.8 102.2 L376.1 102.1 L377.4 102.1 L378.7 102.0 L380.1 101.8 L381.4 101.4 L382.7 100.7 L384.0 99.8 L385.4 98.7 L386.7 97.5" fill="none" stroke="#0000f0" stroke-width="1.65"/>
<path d="M43.5 147.1H51.7 M43.5 144.7V149.5 M51.7 144.7V149.5 M47.6 146.4V147.8 M45.2 146.4H50.0 M45.2 147.8H50.0 M45.6 147.1H49.6 M47.6 145.1V149.1" fill="none" stroke="#000" stroke-width="1.20"/>
<path d="M51.7 149.4H59.4 M51.7 147.0V151.8 M59.4 147.0V151.8 M55.5 148.7V150.1 M53.1 148.7H57.9 M53.1 150.1H57.9 M53.5 149.4H57.5 M55.5 147.4V151.4" fill="none" stroke="#000" stroke-width="1.20"/>
<path d="M59.4 151.6H66.2 M59.4 149.2V154.0 M66.2 149.2V154.0 M62.8 150.9V152.3 M60.4 150.9H65.2 M60.4 152.3H65.2 M60.8 151.6H64.8 M62.8 149.6V153.6" fill="none" stroke="#000" stroke-width="1.20"/>
<path d="M66.2 154.4H72.5 M66.2 152.0V156.8 M72.5 152.0V156.8 M69.4 153.7V155.1 M67.0 153.7H71.8 M67.0 155.1H71.8 M67.4 154.4H71.4 M69.4 152.4V156.4" fill="none" stroke="#000" stroke-width="1.20"/>
<path d="M72.5 156.3H78.8 M72.5 153.9V158.7 M78.8 153.9V158.7 M75.7 155.6V157.0 M73.3 155.6H78.1 M73.3 157.0H78.1 M73.7 156.3H77.7 M75.7 154.3V158.3" fill="none" stroke="#000" stroke-width="1.20"/>
<path d="M78.8 157.6H84.4 M78.8 155.2V160.0 M84.4 155.2V160.0 M81.6 156.9V158.3 M79.2 156.9H84.0 M79.2 158.3H84.0 M79.6 157.6H83.6 M81.6 155.6V159.6" fill="none" stroke="#000" stroke-width="1.20"/>
<path d="M84.4 158.2H89.7 M84.4 155.8V160.6 M89.7 155.8V160.6 M87.1 157.5V158.9 M84.7 157.5H89.5 M84.7 158.9H89.5 M85.1 158.2H89.1 M87.1 156.2V160.2" fill="none" stroke="#000" stroke-width="1.20"/>
<path d="M89.7 159.3H94.6 M89.7 156.9V161.7 M94.6 156.9V161.7 M92.2 158.6V160.0 M89.8 158.6H94.6 M89.8 160.0H94.6 M90.2 159.3H94.2 M92.2 157.3V161.3" fill="none" stroke="#000" stroke-width="1.20"/>
<path d="M94.6 160.1H99.6 M94.6 157.7V162.5 M99.6 157.7V162.5 M97.1 159.4V160.8 M94.7 159.4H99.5 M94.7 160.8H99.5 M95.1 160.1H99.1 M97.1 158.1V162.1" fill="none" stroke="#000" stroke-width="1.20"/>
<path d="M99.6 161.3H104.1 M99.6 158.9V163.7 M104.1 158.9V163.7 M101.8 160.6V162.0 M99.4 160.6H104.2 M99.4 162.0H104.2 M99.8 161.3H103.8 M101.8 159.3V163.3" fill="none" stroke="#000" stroke-width="1.20"/>
<path d="M104.1 161.9H108.3 M104.1 159.5V164.3 M108.3 159.5V164.3 M106.2 161.2V162.6 M103.8 161.2H108.6 M103.8 162.6H108.6 M104.2 161.9H108.2 M106.2 159.9V163.9" fill="none" stroke="#000" stroke-width="1.20"/>
<path d="M108.3 163.0H112.4 M108.3 160.6V165.4 M112.4 160.6V165.4 M110.4 162.3V163.7 M108.0 162.3H112.8 M108.0 163.7H112.8 M108.4 163.0H112.4 M110.4 161.0V165.0" fill="none" stroke="#000" stroke-width="1.20"/>
<path d="M112.4 163.7H116.5 M112.4 161.3V166.1 M116.5 161.3V166.1 M114.5 163.0V164.4 M112.1 163.0H116.9 M112.1 164.4H116.9 M112.5 163.7H116.5 M114.5 161.7V165.7" fill="none" stroke="#000" stroke-width="1.20"/>
<path d="M116.5 164.0H120.3 M116.5 161.6V166.4 M120.3 161.6V166.4 M118.4 163.3V164.7 M116.0 163.3H120.8 M116.0 164.7H120.8 M116.4 164.0H120.4 M118.4 162.0V166.0" fill="none" stroke="#000" stroke-width="1.20"/>
<path d="M120.3 164.7H124.1 M120.3 162.3V167.1 M124.1 162.3V167.1 M122.2 164.0V165.4 M119.8 164.0H124.6 M119.8 165.4H124.6 M120.2 164.7H124.2 M122.2 162.7V166.7" fill="none" stroke="#000" stroke-width="1.20"/>
<path d="M124.1 164.8H127.8 M124.1 162.4V167.2 M127.8 162.4V167.2 M126.0 164.1V165.5 M123.6 164.1H128.4 M123.6 165.5H128.4 M124.0 164.8H128.0 M126.0 162.8V166.8" fill="none" stroke="#000" stroke-width="1.20"/>
<path d="M127.8 164.4H131.5 M127.8 162.0V166.8 M131.5 162.0V166.8 M129.7 163.7V165.1 M127.3 163.7H132.1 M127.3 165.1H132.1 M127.7 164.4H131.7 M129.7 162.4V166.4" fill="none" stroke="#000" stroke-width="1.20"/>
<path d="M131.5 164.7H135.2 M131.5 162.3V167.1 M135.2 162.3V167.1 M133.3 164.0V165.4 M130.9 164.0H135.7 M130.9 165.4H135.7 M131.3 164.7H135.3 M133.3 162.7V166.7" fill="none" stroke="#000" stroke-width="1.20"/>
<path d="M135.2 164.5H138.6 M135.2 162.1V166.9 M138.6 162.1V166.9 M136.9 163.8V165.2 M134.5 163.8H139.3 M134.5 165.2H139.3 M134.9 164.5H138.9 M136.9 162.5V166.5" fill="none" stroke="#000" stroke-width="1.20"/>
<path d="M138.6 164.4H141.9 M138.6 162.0V166.8 M141.9 162.0V166.8 M140.3 163.7V165.1 M137.9 163.7H142.7 M137.9 165.1H142.7 M138.3 164.4H142.3 M140.3 162.4V166.4" fill="none" stroke="#000" stroke-width="1.20"/>
<path d="M141.9 164.0H145.2 M141.9 161.6V166.4 M145.2 161.6V166.4 M143.5 163.3V164.7 M141.1 163.3H145.9 M141.1 164.7H145.9 M141.5 164.0H145.5 M143.5 162.0V166.0" fill="none" stroke="#000" stroke-width="1.20"/>
<path d="M145.2 163.9H148.3 M145.2 161.5V166.3 M148.3 161.5V166.3 M146.7 163.2V164.6 M144.3 163.2H149.1 M144.3 164.6H149.1 M144.7 163.9H148.7 M146.7 161.9V165.9" fill="none" stroke="#000" stroke-width="1.20"/>
<path d="M148.3 163.3H151.3 M148.3 160.9V165.7 M151.3 160.9V165.7 M149.8 162.6V164.0 M147.4 162.6H152.2 M147.4 164.0H152.2 M147.8 163.3H151.8 M149.8 161.3V165.3" fill="none" stroke="#000" stroke-width="1.20"/>
<path d="M151.3 162.7H154.3 M151.3 160.3V165.1 M154.3 160.3V165.1 M152.8 162.0V163.4 M150.4 162.0H155.2 M150.4 163.4H155.2 M150.8 162.7H154.8 M152.8 160.7V164.7" fill="none" stroke="#000" stroke-width="1.20"/>
<path d="M154.3 162.4H157.1 M154.3 160.0V164.8 M157.1 160.0V164.8 M155.7 161.7V163.1 M153.3 161.7H158.1 M153.3 163.1H158.1 M153.7 162.4H157.7 M155.7 160.4V164.4" fill="none" stroke="#000" stroke-width="1.20"/>
<path d="M157.1 162.0H159.9 M157.1 159.6V164.4 M159.9 159.6V164.4 M158.5 161.3V162.8 M156.1 161.3H160.9 M156.1 162.8H160.9 M156.5 162.0H160.5 M158.5 160.0V164.0" fill="none" stroke="#000" stroke-width="1.20"/>
<path d="M159.9 161.1H162.7 M159.9 158.7V163.5 M162.7 158.7V163.5 M161.3 160.4V161.9 M158.9 160.4H163.7 M158.9 161.9H163.7 M159.3 161.1H163.3 M161.3 159.1V163.1" fill="none" stroke="#000" stroke-width="1.20"/>
<path d="M162.7 160.5H165.3 M162.7 158.1V162.9 M165.3 158.1V162.9 M164.0 159.7V161.3 M161.6 159.7H166.4 M161.6 161.3H166.4 M162.0 160.5H166.0 M164.0 158.5V162.5" fill="none" stroke="#000" stroke-width="1.20"/>
<path d="M165.3 160.1H167.9 M165.3 157.7V162.5 M167.9 157.7V162.5 M166.6 159.3V160.9 M164.2 159.3H169.0 M164.2 160.9H169.0 M164.6 160.1H168.6 M166.6 158.1V162.1" fill="none" stroke="#000" stroke-width="1.20"/>
<path d="M167.9 160.0H170.5 M167.9 157.6V162.4 M170.5 157.6V162.4 M169.2 159.1V160.8 M166.8 159.1H171.6 M166.8 160.8H171.6 M167.2 160.0H171.2 M169.2 158.0V162.0" fill="none" stroke="#000" stroke-width="1.20"/>
<path d="M170.5 159.5H173.0 M170.5 157.1V161.9 M173.0 157.1V161.9 M171.7 158.6V160.3 M169.3 158.6H174.1 M169.3 160.3H174.1 M169.7 159.5H173.7 M171.7 157.5V161.5" fill="none" stroke="#000" stroke-width="1.20"/>
<path d="M173.0 158.7H175.5 M173.0 156.3V161.1 M175.5 156.3V161.1 M174.2 157.8V159.6 M171.8 157.8H176.6 M171.8 159.6H176.6 M172.2 158.7H176.2 M174.2 156.7V160.7" fill="none" stroke="#000" stroke-width="1.20"/>
<path d="M175.5 158.3H178.0 M175.5 155.9V160.7 M178.0 155.9V160.7 M176.7 157.4V159.2 M174.3 157.4H179.1 M174.3 159.2H179.1 M174.7 158.3H178.7 M176.7 156.3V160.3" fill="none" stroke="#000" stroke-width="1.20"/>
<path d="M178.0 157.6H180.4 M178.0 155.2V160.0 M180.4 155.2V160.0 M179.2 156.7V158.6 M176.8 156.7H181.6 M176.8 158.6H181.6 M177.2 157.6H181.2 M179.2 155.6V159.6" fill="none" stroke="#000" stroke-width="1.20"/>
<path d="M180.4 156.7H182.9 M180.4 154.3V159.1 M182.9 154.3V159.1 M181.7 155.7V157.7 M179.3 155.7H184.1 M179.3 157.7H184.1 M179.7 156.7H183.7 M181.7 154.7V158.7" fill="none" stroke="#000" stroke-width="1.20"/>
<path d="M182.9 155.8H185.2 M182.9 153.4V158.2 M185.2 153.4V158.2 M184.0 154.7V156.8 M181.6 154.7H186.4 M181.6 156.8H186.4 M182.0 155.8H186.0 M184.0 153.8V157.8" fill="none" stroke="#000" stroke-width="1.20"/>
<path d="M185.2 155.4H187.6 M185.2 153.0V157.8 M187.6 153.0V157.8 M186.4 154.3V156.5 M184.0 154.3H188.8 M184.0 156.5H188.8 M184.4 155.4H188.4 M186.4 153.4V157.4" fill="none" stroke="#000" stroke-width="1.20"/>
<path d="M187.6 154.5H189.8 M187.6 152.1V156.9 M189.8 152.1V156.9 M188.7 153.4V155.6 M186.3 153.4H191.1 M186.3 155.6H191.1 M186.7 154.5H190.7 M188.7 152.5V156.5" fill="none" stroke="#000" stroke-width="1.20"/>
<path d="M189.8 153.5H192.1 M189.8 151.1V155.9 M192.1 151.1V155.9 M191.0 152.4V154.7 M188.6 152.4H193.4 M188.6 154.7H193.4 M189.0 153.5H193.0 M191.0 151.5V155.5" fill="none" stroke="#000" stroke-width="1.20"/>
<path d="M192.1 152.4H194.3 M192.1 150.0V154.8 M194.3 150.0V154.8 M193.2 151.3V153.6 M190.8 151.3H195.6 M190.8 153.6H195.6 M191.2 152.4H195.2 M193.2 150.4V154.4" fill="none" stroke="#000" stroke-width="1.20"/>
<path d="M194.3 151.5H196.5 M194.3 149.1V153.9 M196.5 149.1V153.9 M195.4 150.3V152.8 M193.0 150.3H197.8 M193.0 152.8H197.8 M193.4 151.5H197.4 M195.4 149.5V153.5" fill="none" stroke="#000" stroke-width="1.20"/>
<path d="M196.5 150.5H198.7 M196.5 148.1V152.9 M198.7 148.1V152.9 M197.6 149.3V151.8 M195.2 149.3H200.0 M195.2 151.8H200.0 M195.6 150.5H199.6 M197.6 148.5V152.5" fill="none" stroke="#000" stroke-width="1.20"/>
<path d="M198.7 149.2H201.5 M198.7 146.8V151.6 M201.5 146.8V151.6 M200.1 147.9V150.5 M197.7 147.9H202.5 M197.7 150.5H202.5 M198.1 149.2H202.1 M200.1 147.2V151.2" fill="none" stroke="#000" stroke-width="1.20"/>
<path d="M201.5 147.8H205.0 M201.5 145.4V150.2 M205.0 145.4V150.2 M203.3 146.4V149.1 M200.9 146.4H205.7 M200.9 149.1H205.7 M201.3 147.8H205.3 M203.3 145.8V149.8" fill="none" stroke="#000" stroke-width="1.20"/>
<path d="M205.0 146.3H208.5 M205.0 143.9V148.7 M208.5 143.9V148.7 M206.7 144.9V147.7 M204.3 144.9H209.1 M204.3 147.7H209.1 M204.7 146.3H208.7 M206.7 144.3V148.3" fill="none" stroke="#000" stroke-width="1.20"/>
<path d="M208.5 145.1H211.8 M208.5 142.7V147.5 M211.8 142.7V147.5 M210.1 143.6V146.6 M207.7 143.6H212.5 M207.7 146.6H212.5 M208.1 145.1H212.1 M210.1 143.1V147.1" fill="none" stroke="#000" stroke-width="1.20"/>
<path d="M211.8 143.4H215.2 M211.8 141.0V145.8 M215.2 141.0V145.8 M213.5 141.9V145.0 M211.1 141.9H215.9 M211.1 145.0H215.9 M211.5 143.4H215.5 M213.5 141.4V145.4" fill="none" stroke="#000" stroke-width="1.20"/>
<path d="M215.2 141.9H218.4 M215.2 139.5V144.3 M218.4 139.5V144.3 M216.8 140.2V143.5 M214.4 140.2H219.2 M214.4 143.5H219.2 M214.8 141.9H218.8 M216.8 139.9V143.9" fill="none" stroke="#000" stroke-width="1.20"/>
<path d="M218.4 140.8H221.7 M218.4 138.4V143.2 M221.7 138.4V143.2 M220.1 139.1V142.5 M217.7 139.1H222.5 M217.7 142.5H222.5 M218.1 140.8H222.1 M220.1 138.8V142.8" fill="none" stroke="#000" stroke-width="1.20"/>
<path d="M221.7 140.0H224.9 M221.7 137.6V142.4 M224.9 137.6V142.4 M223.3 138.2V141.8 M220.9 138.2H225.7 M220.9 141.8H225.7 M221.3 140.0H225.3 M223.3 138.0V142.0" fill="none" stroke="#000" stroke-width="1.20"/>
<path d="M224.9 139.0H228.1 M224.9 136.6V141.4 M228.1 136.6V141.4 M226.5 137.2V140.9 M224.1 137.2H228.9 M224.1 140.9H228.9 M224.5 139.0H228.5 M226.5 137.0V141.0" fill="none" stroke="#000" stroke-width="1.20"/>
<path d="M228.1 138.3H231.2 M228.1 135.9V140.7 M231.2 135.9V140.7 M229.6 136.4V140.2 M227.2 136.4H232.0 M227.2 140.2H232.0 M227.6 138.3H231.6 M229.6 136.3V140.3" fill="none" stroke="#000" stroke-width="1.20"/>
<path d="M231.2 137.9H234.3 M231.2 135.5V140.3 M234.3 135.5V140.3 M232.8 135.9V139.9 M230.4 135.9H235.2 M230.4 139.9H235.2 M230.8 137.9H234.8 M232.8 135.9V139.9" fill="none" stroke="#000" stroke-width="1.20"/>
<path d="M234.3 137.1H237.4 M234.3 134.7V139.5 M237.4 134.7V139.5 M235.9 135.0V139.2 M233.5 135.0H238.3 M233.5 139.2H238.3 M233.9 137.1H237.9 M235.9 135.1V139.1" fill="none" stroke="#000" stroke-width="1.20"/>
<path d="M237.4 136.9H240.8 M237.4 134.5V139.3 M240.8 134.5V139.3 M239.1 134.8V139.1 M236.7 134.8H241.5 M236.7 139.1H241.5 M237.1 136.9H241.1 M239.1 134.9V138.9" fill="none" stroke="#000" stroke-width="1.20"/>
<path d="M240.8 136.1H246.8 M240.8 133.7V138.5 M246.8 133.7V138.5 M243.8 133.9V138.4 M241.4 133.9H246.2 M241.4 138.4H246.2 M241.8 136.1H245.8 M243.8 134.1V138.1" fill="none" stroke="#000" stroke-width="1.20"/>
<path d="M246.8 134.9H252.7 M246.8 132.5V137.3 M252.7 132.5V137.3 M249.8 132.3V137.5 M247.4 132.3H252.2 M247.4 137.5H252.2 M247.8 134.9H251.8 M249.8 132.9V136.9" fill="none" stroke="#000" stroke-width="1.20"/>
<path d="M252.7 131.9H258.6 M252.7 129.5V134.3 M258.6 129.5V134.3 M255.7 128.5V135.3 M253.3 128.5H258.1 M253.3 135.3H258.1 M253.7 131.9H257.7 M255.7 129.9V133.9" fill="none" stroke="#000" stroke-width="1.20"/>
<path d="M258.6 129.0H264.4 M258.6 126.6V131.4 M264.4 126.6V131.4 M261.5 125.3V132.7 M259.1 125.3H263.9 M259.1 132.7H263.9 M259.5 129.0H263.5 M261.5 127.0V131.0" fill="none" stroke="#000" stroke-width="1.20"/>
<path d="M264.4 125.6H271.8 M264.4 123.2V128.0 M271.8 123.2V128.0 M268.1 121.9V129.3 M265.7 121.9H270.5 M265.7 129.3H270.5 M266.1 125.6H270.1 M268.1 123.6V127.6" fill="none" stroke="#000" stroke-width="1.20"/>
<path d="M271.8 124.5H281.7 M271.8 122.1V126.9 M281.7 122.1V126.9 M276.7 119.5V129.5 M274.3 119.5H279.1 M274.3 129.5H279.1 M274.7 124.5H278.7 M276.7 122.5V126.5" fill="none" stroke="#000" stroke-width="1.20"/>
<path d="M281.7 124.5H294.5 M281.7 122.1V126.9 M294.5 122.1V126.9 M288.1 118.5V130.5 M285.7 118.5H290.5 M285.7 130.5H290.5 M286.1 124.5H290.1 M288.1 122.5V126.5" fill="none" stroke="#000" stroke-width="1.20"/>
<path d="M60.9 149.3H68.7 M60.9 147.3V151.3 M68.7 147.3V151.3 M64.5 147.8V150.8 M62.5 147.8H66.5 M62.5 150.8H66.5 M62.8 147.6L66.2 151.0 M62.8 151.0L66.2 147.6" fill="none" stroke="#ff0000" stroke-width="1.00"/>
<path d="M68.7 153.0H75.3 M68.7 151.0V155.0 M75.3 151.0V155.0 M72.0 151.7V154.3 M70.0 151.7H74.0 M70.0 154.3H74.0 M70.3 151.3L73.7 154.7 M70.3 154.7L73.7 151.3" fill="none" stroke="#ff0000" stroke-width="1.00"/>
<path d="M75.3 156.4H86.1 M75.3 154.4V158.4 M86.1 154.4V158.4 M80.0 155.2V157.6 M78.0 155.2H82.0 M78.0 157.6H82.0 M78.3 154.7L81.7 158.1 M78.3 158.1L81.7 154.7" fill="none" stroke="#ff0000" stroke-width="1.00"/>
<path d="M86.1 159.7H97.2 M86.1 157.7V161.7 M97.2 157.7V161.7 M91.3 158.5V160.9 M89.3 158.5H93.3 M89.3 160.9H93.3 M89.6 158.0L93.0 161.4 M89.6 161.4L93.0 158.0" fill="none" stroke="#ff0000" stroke-width="1.00"/>
<path d="M97.2 163.0H105.0 M97.2 161.0V165.0 M105.0 161.0V165.0 M101.0 161.8V164.2 M99.0 161.8H103.0 M99.0 164.2H103.0 M99.3 161.3L102.7 164.7 M99.3 164.7L102.7 161.3" fill="none" stroke="#ff0000" stroke-width="1.00"/>
<path d="M105.0 163.5H112.4 M105.0 161.5V165.5 M112.4 161.5V165.5 M108.4 162.3V164.7 M106.4 162.3H110.4 M106.4 164.7H110.4 M106.7 161.8L110.1 165.2 M106.7 165.2L110.1 161.8" fill="none" stroke="#ff0000" stroke-width="1.00"/>
<path d="M112.4 163.8H120.3 M112.4 161.8V165.8 M120.3 161.8V165.8 M115.8 162.6V165.0 M113.8 162.6H117.8 M113.8 165.0H117.8 M114.1 162.1L117.5 165.5 M114.1 165.5L117.5 162.1" fill="none" stroke="#ff0000" stroke-width="1.00"/>
<path d="M120.3 165.6H132.6 M120.3 163.6V167.6 M132.6 163.6V167.6 M126.2 164.4V166.8 M124.2 164.4H128.2 M124.2 166.8H128.2 M124.5 163.9L127.9 167.3 M124.5 167.3L127.9 163.9" fill="none" stroke="#ff0000" stroke-width="1.00"/>
<path d="M132.6 164.1H142.1 M132.6 162.1V166.1 M142.1 162.1V166.1 M137.3 162.8V165.4 M135.3 162.8H139.3 M135.3 165.4H139.3 M135.6 162.4L139.0 165.8 M135.6 165.8L139.0 162.4" fill="none" stroke="#ff0000" stroke-width="1.00"/>
<path d="M142.1 162.0H153.4 M142.1 160.0V164.0 M153.4 160.0V164.0 M147.0 160.6V163.4 M145.0 160.6H149.0 M145.0 163.4H149.0 M145.3 160.3L148.7 163.7 M145.3 163.7L148.7 160.3" fill="none" stroke="#ff0000" stroke-width="1.00"/>
<path d="M153.4 157.2H159.5 M153.4 155.2V159.2 M159.5 155.2V159.2 M156.7 155.4V159.0 M154.7 155.4H158.7 M154.7 159.0H158.7 M155.0 155.5L158.4 158.9 M155.0 158.9L158.4 155.5" fill="none" stroke="#ff0000" stroke-width="1.00"/>
<path d="M159.5 158.2H171.8 M159.5 156.2V160.2 M171.8 156.2V160.2 M165.3 156.4V160.0 M163.3 156.4H167.3 M163.3 160.0H167.3 M163.6 156.5L167.0 159.9 M163.6 159.9L167.0 156.5" fill="none" stroke="#ff0000" stroke-width="1.00"/>
<path d="M171.8 156.7H186.3 M171.8 154.7V158.7 M186.3 154.7V158.7 M177.8 154.7V158.7 M175.8 154.7H179.8 M175.8 158.7H179.8 M176.1 155.0L179.5 158.4 M176.1 158.4L179.5 155.0" fill="none" stroke="#ff0000" stroke-width="1.00"/>
<path d="M186.3 152.0H203.6 M186.3 150.0V154.0 M203.6 150.0V154.0 M193.4 149.4V154.6 M191.4 149.4H195.4 M191.4 154.6H195.4 M191.7 150.3L195.1 153.7 M191.7 153.7L195.1 150.3" fill="none" stroke="#ff0000" stroke-width="1.00"/>
<path d="M203.6 140.7H222.3 M203.6 138.7V142.7 M222.3 138.7V142.7 M211.2 137.1V144.3 M209.2 137.1H213.2 M209.2 144.3H213.2 M209.5 139.0L212.9 142.4 M209.5 142.4L212.9 139.0" fill="none" stroke="#ff0000" stroke-width="1.00"/>
<path d="M222.3 133.4H240.8 M222.3 131.4V135.4 M240.8 131.4V135.4 M229.7 127.5V138.6 M227.7 127.5H231.7 M227.7 138.6H231.7 M228.0 131.7L231.4 135.1 M228.0 135.1L231.4 131.7" fill="none" stroke="#ff0000" stroke-width="1.00"/>
<path d="M240.8 122.3H270.5 M240.8 120.3V124.3 M270.5 120.3V124.3 M253.2 114.1V129.7 M251.2 114.1H255.2 M251.2 129.7H255.2 M251.5 120.6L254.9 124.0 M251.5 124.0L254.9 120.6" fill="none" stroke="#ff0000" stroke-width="1.00"/>
<path d="M270.5 137.9H287.9 M270.5 135.9V139.9 M287.9 135.9V139.9 M277.9 136.2L281.3 139.6 M277.9 139.6L281.3 136.2" fill="none" stroke="#ff0000" stroke-width="1.00"/>
<path d="M171.8 142.7H181.7 M171.8 140.7V144.7 M181.7 140.7V144.7 M176.8 138.4V147.0 M174.8 138.4H178.8 M174.8 147.0H178.8 M175.0 142.7H178.6 M176.8 140.9V144.5 M175.0 140.9L178.6 144.5 M175.0 144.5L178.6 140.9" fill="none" stroke="#0000ff" stroke-width="1.00"/>
<path d="M181.7 141.0H191.6 M181.7 139.0V143.0 M191.6 139.0V143.0 M186.7 136.7V145.3 M184.7 136.7H188.7 M184.7 145.3H188.7 M184.9 141.0H188.5 M186.7 139.2V142.8 M184.9 139.2L188.5 142.8 M184.9 142.8L188.5 139.2" fill="none" stroke="#0000ff" stroke-width="1.00"/>
<path d="M191.6 135.9H201.4 M191.6 133.9V137.9 M201.4 133.9V137.9 M196.5 131.6V140.2 M194.5 131.6H198.5 M194.5 140.2H198.5 M194.7 135.9H198.3 M196.5 134.1V137.7 M194.7 134.1L198.3 137.7 M194.7 137.7L198.3 134.1" fill="none" stroke="#0000ff" stroke-width="1.00"/>
<path d="M201.4 133.8H211.3 M201.4 131.8V135.8 M211.3 131.8V135.8 M206.3 129.0V138.6 M204.3 129.0H208.3 M204.3 138.6H208.3 M204.5 133.8H208.1 M206.3 132.0V135.6 M204.5 132.0L208.1 135.6 M204.5 135.6L208.1 132.0" fill="none" stroke="#0000ff" stroke-width="1.00"/>
<path d="M211.3 133.9H221.1 M211.3 131.9V135.9 M221.1 131.9V135.9 M216.2 128.4V139.4 M214.2 128.4H218.2 M214.2 139.4H218.2 M214.4 133.9H218.0 M216.2 132.1V135.7 M214.4 132.1L218.0 135.7 M214.4 135.7L218.0 132.1" fill="none" stroke="#0000ff" stroke-width="1.00"/>
<path d="M221.1 130.6H231.0 M221.1 128.6V132.6 M231.0 128.6V132.6 M226.1 122.5V138.0 M224.1 122.5H228.1 M224.1 138.0H228.1 M224.3 130.6H227.9 M226.1 128.8V132.4 M224.3 128.8L227.9 132.4 M224.3 132.4L227.9 128.8" fill="none" stroke="#0000ff" stroke-width="1.00"/>
<path d="M231.0 116.7H240.8 M231.0 114.7V118.7 M240.8 114.7V118.7 M235.9 107.7V125.8 M233.9 107.7H237.9 M233.9 125.8H237.9 M234.1 116.7H237.7 M235.9 114.9V118.5 M234.1 114.9L237.7 118.5 M234.1 118.5L237.7 114.9" fill="none" stroke="#0000ff" stroke-width="1.00"/>
<path d="M240.8 122.7H250.7 M240.8 120.7V124.7 M250.7 120.7V124.7 M245.7 113.5V132.0 M243.7 113.5H247.7 M243.7 132.0H247.7 M243.9 122.7H247.5 M245.7 120.9V124.5 M243.9 120.9L247.5 124.5 M243.9 124.5L247.5 120.9" fill="none" stroke="#0000ff" stroke-width="1.00"/>
<path d="M250.7 113.0H260.7 M250.7 111.0V115.0 M260.7 111.0V115.0 M255.7 102.5V123.3 M253.7 102.5H257.7 M253.7 123.3H257.7 M253.9 113.0H257.5 M255.7 111.2V114.8 M253.9 111.2L257.5 114.8 M253.9 114.8L257.5 111.2" fill="none" stroke="#0000ff" stroke-width="1.00"/>
<path d="M260.7 99.9H270.5 M260.7 97.9V101.9 M270.5 97.9V101.9 M265.6 86.1V119.9 M263.6 86.1H267.6 M263.6 119.9H267.6 M263.8 99.9H267.4 M265.6 98.1V101.7 M263.8 98.1L267.4 101.7 M263.8 101.7L267.4 98.1" fill="none" stroke="#0000ff" stroke-width="1.00"/>
</g>
<path d="M43.50 250.50v-6.90 M43.50 30.50v6.90 M73.20 250.50v-3.50 M73.20 30.50v3.50 M90.57 250.50v-3.50 M90.57 30.50v3.50 M102.89 250.50v-3.50 M102.89 30.50v3.50 M112.45 250.50v-3.50 M112.45 30.50v3.50 M120.26 250.50v-3.50 M120.26 30.50v3.50 M126.86 250.50v-3.50 M126.86 30.50v3.50 M132.59 250.50v-3.50 M132.59 30.50v3.50 M137.63 250.50v-3.50 M137.63 30.50v3.50 M142.14 250.50v-6.90 M142.14 30.50v6.90 M171.84 250.50v-3.50 M171.84 30.50v3.50 M189.21 250.50v-3.50 M189.21 30.50v3.50 M201.53 250.50v-3.50 M201.53 30.50v3.50 M211.09 250.50v-3.50 M211.09 30.50v3.50 M218.91 250.50v-3.50 M218.91 30.50v3.50 M225.51 250.50v-3.50 M225.51 30.50v3.50 M231.23 250.50v-3.50 M231.23 30.50v3.50 M236.28 250.50v-3.50 M236.28 30.50v3.50 M240.79 250.50v-6.90 M240.79 30.50v6.90 M270.48 250.50v-3.50 M270.48 30.50v3.50 M287.86 250.50v-3.50 M287.86 30.50v3.50 M300.18 250.50v-3.50 M300.18 30.50v3.50 M309.74 250.50v-3.50 M309.74 30.50v3.50 M317.55 250.50v-3.50 M317.55 30.50v3.50 M324.15 250.50v-3.50 M324.15 30.50v3.50 M329.87 250.50v-3.50 M329.87 30.50v3.50 M334.92 250.50v-3.50 M334.92 30.50v3.50 M339.43 250.50v-6.90 M339.43 30.50v6.90 M369.13 250.50v-3.50 M369.13 30.50v3.50 M386.50 250.50v-3.50 M386.50 30.50v3.50 M43.50 250.50h3.50 M386.50 250.50h-3.50 M43.50 243.81h3.50 M386.50 243.81h-3.50 M43.50 238.15h3.50 M386.50 238.15h-3.50 M43.50 233.24h3.50 M386.50 233.24h-3.50 M43.50 228.92h3.50 M386.50 228.92h-3.50 M43.50 225.05h6.90 M386.50 225.05h-6.90 M43.50 199.60h3.50 M386.50 199.60h-3.50 M43.50 184.71h3.50 M386.50 184.71h-3.50 M43.50 174.15h3.50 M386.50 174.15h-3.50 M43.50 165.95h3.50 M386.50 165.95h-3.50 M43.50 159.26h3.50 M386.50 159.26h-3.50 M43.50 153.60h3.50 M386.50 153.60h-3.50 M43.50 148.69h3.50 M386.50 148.69h-3.50 M43.50 144.37h3.50 M386.50 144.37h-3.50 M43.50 140.50h6.90 M386.50 140.50h-6.90 M43.50 115.05h3.50 M386.50 115.05h-3.50 M43.50 100.16h3.50 M386.50 100.16h-3.50 M43.50 89.60h3.50 M386.50 89.60h-3.50 M43.50 81.40h3.50 M386.50 81.40h-3.50 M43.50 74.71h3.50 M386.50 74.71h-3.50 M43.50 69.05h3.50 M386.50 69.05h-3.50 M43.50 64.15h3.50 M386.50 64.15h-3.50 M43.50 59.82h3.50 M386.50 59.82h-3.50 M43.50 55.95h6.90 M386.50 55.95h-6.90 M43.50 30.50h3.50 M386.50 30.50h-3.50 " fill="none" stroke="#000" stroke-width="0.85"/>
<rect x="43.50" y="30.50" width="343.00" height="220.00" fill="none" stroke="#000" stroke-width="1"/>
<text x="37.4" y="59.8" font-size="9.7" text-anchor="end">10<tspan font-size="7.3" dy="-5.2">0</tspan></text>
<text x="37.4" y="144.3" font-size="9.7" text-anchor="end">10<tspan font-size="7.3" dy="-5.2">-1</tspan></text>
<text x="37.4" y="228.8" font-size="9.7" text-anchor="end">10<tspan font-size="7.3" dy="-5.2">-2</tspan></text>
<text x="43.9" y="265.1" font-size="9.7" text-anchor="middle">10<tspan font-size="7.3" dy="-5.2">0</tspan></text>
<text x="142.5" y="265.1" font-size="9.7" text-anchor="middle">10<tspan font-size="7.3" dy="-5.2">1</tspan></text>
<text x="241.2" y="265.1" font-size="9.7" text-anchor="middle">10<tspan font-size="7.3" dy="-5.2">2</tspan></text>
<text x="339.8" y="265.1" font-size="9.7" text-anchor="middle">10<tspan font-size="7.3" dy="-5.2">3</tspan></text>
<text x="214.8" y="20.2" font-size="10.2" text-anchor="middle">e<tspan font-size="8.1" dy="-5.0">+</tspan><tspan dy="5.0">/(e</tspan><tspan font-size="8.1" dy="-5.0">+</tspan><tspan dy="5.0">+e</tspan><tspan font-size="8.1" dy="-5.0">-</tspan><tspan dy="5.0">)</tspan></text>
<text x="215.3" y="279.6" font-size="10.2" text-anchor="middle">E [GeV]</text>
<text transform="translate(12.6 140.7) rotate(-90)" font-size="10.2" text-anchor="middle">e<tspan font-size="8.1" dy="-5.0">+</tspan><tspan dy="5.0">/(e</tspan><tspan font-size="8.1" dy="-5.0">+</tspan><tspan dy="5.0">+e</tspan><tspan font-size="8.1" dy="-5.0">-</tspan><tspan dy="5.0">)</tspan></text>
<text x="116.6" y="44.3" font-size="7.5" text-anchor="end" stroke="#000" stroke-width="0.12">II</text>
<path d="M122.5 42.5H151.0" stroke="#ff0000" stroke-width="0.95" stroke-dasharray="1.5 1.1"/>
<text x="116.6" y="52.1" font-size="7.5" text-anchor="end" stroke="#000" stroke-width="0.12">3σ band E<tspan font-size="5.9" dy="1.8">c</tspan><tspan dy="-1.8">=1 TeV</tspan></text>
<rect x="122.5" y="47.7" width="28.5" height="5.2" fill="#ff8c00"/>
<text x="116.6" y="60.0" font-size="7.5" text-anchor="end" stroke="#000" stroke-width="0.12">3σ band E<tspan font-size="5.9" dy="1.8">c</tspan><tspan dy="-1.8">=10 TeV</tspan></text>
<rect x="122.5" y="55.6" width="28.5" height="5.2" fill="#00bfff"/>
<text x="116.6" y="67.8" font-size="7.5" text-anchor="end" stroke="#000" stroke-width="0.12">PWN E<tspan font-size="5.9" dy="1.8">c</tspan><tspan dy="-1.8">=1 TeV</tspan></text>
<path d="M122.5 66.0H151.0" stroke="#a0522d" stroke-opacity="0.8" stroke-width="0.9" stroke-dasharray="1.8 0.9"/>
<text x="116.6" y="75.7" font-size="7.5" text-anchor="end" stroke="#000" stroke-width="0.12">PWN E<tspan font-size="5.9" dy="1.8">c</tspan><tspan dy="-1.8">=10 TeV</tspan></text>
<path d="M122.5 73.9H151.0" stroke="#9932cc" stroke-opacity="0.9" stroke-width="0.9" stroke-dasharray="1.8 0.9"/>
<text x="116.6" y="83.5" font-size="7.5" text-anchor="end" stroke="#000" stroke-width="0.12">TOT E<tspan font-size="5.9" dy="1.8">c</tspan><tspan dy="-1.8">=1 TeV</tspan></text>
<path d="M122.5 81.7H151.0" stroke="#ff0000" stroke-width="1.7"/>
<text x="116.6" y="91.3" font-size="7.5" text-anchor="end" stroke="#000" stroke-width="0.12">TOT E<tspan font-size="5.9" dy="1.8">c</tspan><tspan dy="-1.8">=10 TeV</tspan></text>
<path d="M122.5 89.5H151.0" stroke="#0000f0" stroke-width="1.7"/>
<text x="116.6" y="99.2" font-size="7.5" text-anchor="end" stroke="#000" stroke-width="0.12">AMS-02</text>
<path d="M122.5 97.4H151.0 M122.5 95.4V99.4 M151.0 95.4V99.4 M134.8 97.4H138.8 M136.8 95.4V99.4" fill="none" stroke="#000" stroke-width="1.25"/>
<text x="116.6" y="107.0" font-size="7.5" text-anchor="end" stroke="#000" stroke-width="0.12">PAMELA</text>
<path d="M122.5 105.2H151.0 M122.5 103.2V107.2 M151.0 103.2V107.2 M135.1 103.5L138.4 106.9 M135.1 106.9L138.4 103.5" fill="none" stroke="#ff0000" stroke-width="1.05"/>
<text x="116.6" y="114.9" font-size="7.5" text-anchor="end" stroke="#000" stroke-width="0.12">FERMI</text>
<path d="M122.5 113.1H151.0 M122.5 111.1V115.1 M151.0 111.1V115.1 M134.9 113.1H138.6 M136.8 111.3V114.9 M134.9 111.3L138.6 114.9 M134.9 114.9L138.6 111.3" fill="none" stroke="#0000ff" stroke-width="1.05"/>
</svg>
</div>
</body></html>
